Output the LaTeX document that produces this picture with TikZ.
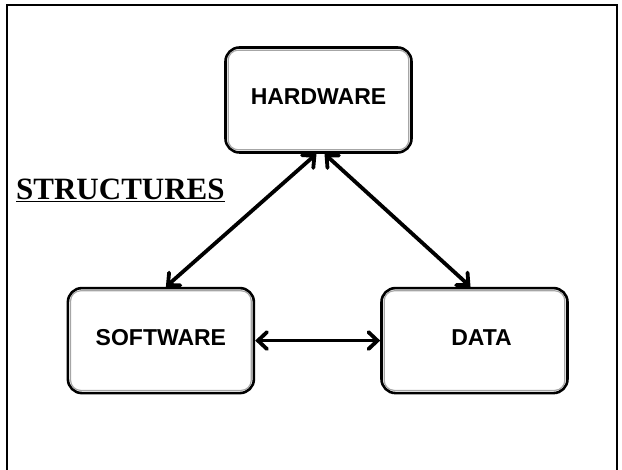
\documentclass[tikz,border=0pt]{standalone}
\usepackage{fontspec}
\setmainfont{Liberation Serif}
\setsansfont{Liberation Sans}
\usetikzlibrary{arrows.meta,positioning}

\begin{document}
\begin{tikzpicture}[
  x=1pt, y=1pt,
  box/.style={draw,line width=2.6pt,rounded corners=14pt,align=center,font=\sffamily\bfseries\fontsize{23}{27}\selectfont,minimum width=186pt,minimum height=105pt,text depth=6pt},
  inner/.style={draw=gray!70,line width=1.2pt,rounded corners=10pt},
  link/.style={line width=3.8pt,<->},
  frame/.style={line width=1.6pt},
  >={Straight Barb[length=9pt,width=17pt,line cap=round]}
]
\useasboundingbox (0,0) rectangle (622,470);
\draw[frame] (7,-10) |- (617,465) -- (617,-10);

\node[box] (hw) at (318.5,370) {HARDWARE};
\node[box, below left=133pt and -31pt of hw] (sw) {SOFTWARE};
\node[box, right=125pt of sw] (data) {\hspace*{14pt}DATA};
\foreach \n in {hw,sw,data}
  \draw[inner] ([shift={(4pt,4pt)}]\n.south west) rectangle ([shift={(-4pt,-4pt)}]\n.north east);

\node[anchor=base west, font=\bfseries\fontsize{31}{36}\selectfont, inner sep=0pt] (title) at (16,270) {\underline{STRUCTURES}};

\draw[link] ([xshift=-2pt]hw.south) -- ([xshift=5pt]sw.north);
\draw[link] ([xshift=6pt]hw.south) -- ([xshift=-4pt]data.north);
\draw[link] (sw) -- (data);
\end{tikzpicture}
\end{document}
